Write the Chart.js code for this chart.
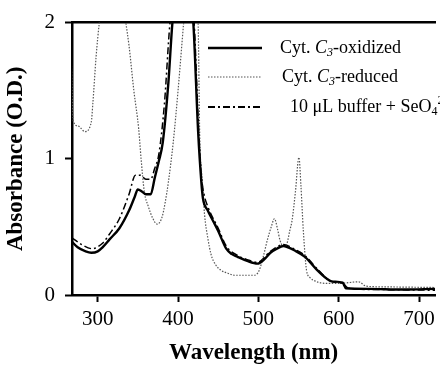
<!DOCTYPE html>
<html>
<head>
<meta charset="utf-8">
<title>Absorbance spectra</title>
<script src="https://cdn.jsdelivr.net/npm/chart.js@4.4.1/dist/chart.umd.min.js"></script>
<style>
  html, body { margin: 0; padding: 0; background: #fff; }
  #wrap { width: 440px; height: 365px; position: relative; }
</style>
</head>
<body>
<div id="wrap"><canvas id="spectra"></canvas></div>
<script>
// Spectra (wavelength in nm, absorbance in O.D.)
const oxidizedWl = [268, 275, 285, 292, 300, 306, 315, 327, 339, 346, 350, 355, 360, 366, 371, 376, 381, 388, 393, 405, 419, 425, 429, 431, 437, 444, 450, 460, 467, 474, 486, 499, 507, 515, 523, 531, 537, 544, 558, 572, 585, 591, 605, 609, 637, 680, 720];
const oxidizedAbs = [0.39, 0.35, 0.32, 0.31, 0.32, 0.35, 0.41, 0.49, 0.62, 0.72, 0.775, 0.76, 0.74, 0.74, 0.86, 0.98, 1.12, 1.56, 2.0, 2.6, 2.0, 1.2, 0.83, 0.71, 0.62, 0.54, 0.47, 0.34, 0.30, 0.28, 0.25, 0.23, 0.26, 0.31, 0.34, 0.36, 0.35, 0.33, 0.28, 0.19, 0.12, 0.10, 0.09, 0.05, 0.045, 0.04, 0.045];

const reducedWl = [267, 269.5, 276, 284, 292, 294, 298, 302, 318, 335, 339, 345, 351, 354, 358, 363, 368, 374, 380, 384, 388, 394, 400, 407, 416, 425, 427, 430, 433, 437, 441, 447, 454, 462, 470, 495, 501, 506, 511, 516, 520, 524, 527, 531, 535, 539, 542, 546, 550.5, 553, 556, 560, 564, 568, 585, 600, 625, 634, 654, 720];
const reducedAbs = [1.75, 1.28, 1.24, 1.20, 1.27, 1.41, 1.75, 2.0, 2.7, 2.0, 1.83, 1.5, 1.22, 1.0, 0.76, 0.65, 0.57, 0.52, 0.57, 0.68, 0.83, 1.12, 1.5, 2.0, 2.6, 2.0, 1.17, 0.85, 0.59, 0.42, 0.30, 0.22, 0.18, 0.16, 0.145, 0.145, 0.18, 0.28, 0.40, 0.50, 0.56, 0.48, 0.40, 0.36, 0.37, 0.47, 0.55, 0.75, 1.01, 0.80, 0.47, 0.18, 0.13, 0.11, 0.085, 0.085, 0.097, 0.065, 0.06, 0.055];

const bufferWl = [268, 280, 293, 306, 315, 327, 339, 347, 353, 360, 366, 371, 376, 383, 390, 405, 420, 425, 429, 432, 437, 450, 460, 474, 486, 499, 515, 531, 544, 558, 572, 591, 605, 612, 650, 720];
const bufferAbs = [0.42, 0.37, 0.34, 0.38, 0.45, 0.56, 0.74, 0.88, 0.88, 0.85, 0.85, 0.93, 1.03, 1.4, 2.0, 2.6, 2.0, 1.3, 0.88, 0.75, 0.65, 0.49, 0.36, 0.29, 0.26, 0.24, 0.32, 0.37, 0.34, 0.29, 0.20, 0.10, 0.085, 0.05, 0.04, 0.035];

const xTicks = [300, 400, 500, 600, 700];
const yTicks = [0, 1, 2];

const SERIF = '"Liberation Serif", "Times New Roman", serif';

const toPoints = (xs, ys) => xs.map((x, i) => ({ x: x, y: ys[i] }));

// Legend with italic C, subscripts and superscripts (the built-in legend can't do rich text)
const legendRows = [
  { y: 48, x: 280, parts: [['Cyt. ', 'n'], ['C', 'i'], ['3', 'isub'], ['-oxidized', 'n']] },
  { y: 77, x: 282, parts: [['Cyt. ', 'n'], ['C', 'i'], ['3', 'isub'], ['-reduced', 'n']] },
  { y: 107, x: 290, parts: [['10 \u03bcL buffer + SeO', 'n'], ['4', 'sub'], ['2-', 'sup']] }
];

const richLegend = {
  id: 'richLegend',
  afterDatasetsDraw(chart) {
    const ctx = chart.ctx;
    ctx.save();
    chart.data.datasets.forEach((ds, i) => {
      const row = legendRows[i];
      // sample line
      ctx.beginPath();
      ctx.strokeStyle = ds.borderColor;
      ctx.lineWidth = ds.legendWidth || ds.borderWidth;
      ctx.setLineDash(ds.borderDash || []);
      ctx.moveTo(208, row.y);
      ctx.lineTo(262, row.y);
      ctx.stroke();
      ctx.setLineDash([]);

      // label text
      let x = row.x;
      ctx.fillStyle = '#000';
      ctx.textBaseline = 'middle';
      ctx.textAlign = 'left';
      row.parts.forEach(([txt, style]) => {
        let dy = 0;
        if (style === 'n') ctx.font = '18px ' + SERIF;
        if (style === 'i') ctx.font = 'italic 18px ' + SERIF;
        if (style === 'isub') { ctx.font = 'italic 12px ' + SERIF; dy = 5; }
        if (style === 'sub') { ctx.font = '12px ' + SERIF; dy = 5; }
        if (style === 'sup') { ctx.font = '12px ' + SERIF; dy = -6; }
        ctx.fillText(txt, x, row.y + dy);
        x += ctx.measureText(txt).width;
      });
    });
    ctx.restore();
  }
};

const ctx = document.getElementById('spectra');

const chart = new Chart(ctx, {
  type: 'line',
  data: {
    datasets: [
      {
        label: 'Cyt. C3-oxidized',
        data: toPoints(oxidizedWl, oxidizedAbs),
        borderColor: '#000',
        borderWidth: 2.4,
        legendWidth: 2.6
      },
      {
        label: 'Cyt. C3-reduced',
        data: toPoints(reducedWl, reducedAbs),
        borderColor: '#555',
        borderWidth: 1.2,
        borderDash: [1.5, 1.5]
      },
      {
        label: '10 uL buffer + SeO4 2-',
        data: toPoints(bufferWl, bufferAbs),
        borderColor: '#000',
        borderWidth: 1.5,
        legendWidth: 2,
        borderDash: [7, 3, 2, 3]
      }
    ]
  },
  options: {
    responsive: true,
    maintainAspectRatio: false,
    animation: false,
    layout: { padding: { top: 19, right: 0, bottom: 0, left: 0 } },
    elements: {
      point: { radius: 0 },
      line: { cubicInterpolationMode: 'monotone', fill: false }
    },
    plugins: {
      legend: { display: false },
      tooltip: { enabled: false }
    },
    scales: {
      x: {
        type: 'linear',
        min: 268,
        max: 720,
        afterBuildTicks: (scale) => { scale.ticks = xTicks.map(v => ({ value: v })); },
        afterFit: (scale) => { scale.height = 70; },
        grid: {
          drawOnChartArea: false,
          drawTicks: true,
          tickLength: 7,
          tickWidth: 2,
          tickColor: '#000'
        },
        border: { display: true, color: '#000', width: 2.5 },
        ticks: {
          color: '#000',
          padding: 5,
          maxRotation: 0,
          font: { family: SERIF, size: 21 }
        },
        title: {
          display: true,
          text: 'Wavelength (nm)',
          color: '#000',
          padding: { top: 0, bottom: 0 },
          font: { family: SERIF, size: 23, weight: 'bold', lineHeight: 1 }
        }
      },
      xTop: {
        type: 'linear',
        position: 'top',
        min: 268,
        max: 720,
        afterFit: (scale) => { scale.height = 0; },
        grid: { display: false, drawTicks: false },
        ticks: { display: false },
        border: { display: true, color: '#000', width: 2.5 }
      },
      y: {
        type: 'linear',
        min: 0,
        max: 2,
        afterBuildTicks: (scale) => { scale.ticks = yTicks.map(v => ({ value: v })); },
        afterFit: (scale) => { scale.width = 72; },
        grid: {
          drawOnChartArea: false,
          drawTicks: true,
          tickLength: 7,
          tickWidth: 2,
          tickColor: '#000'
        },
        border: { display: true, color: '#000', width: 2.5 },
        ticks: {
          color: '#000',
          padding: 10,
          font: { family: SERIF, size: 21 }
        },
        title: {
          display: true,
          text: 'Absorbance (O.D.)',
          color: '#000',
          padding: { top: 5, bottom: 0 },
          font: { family: SERIF, size: 23, weight: 'bold', lineHeight: 1 }
        }
      }
    }
  },
  plugins: [richLegend]
});
</script>
</body>
</html>
